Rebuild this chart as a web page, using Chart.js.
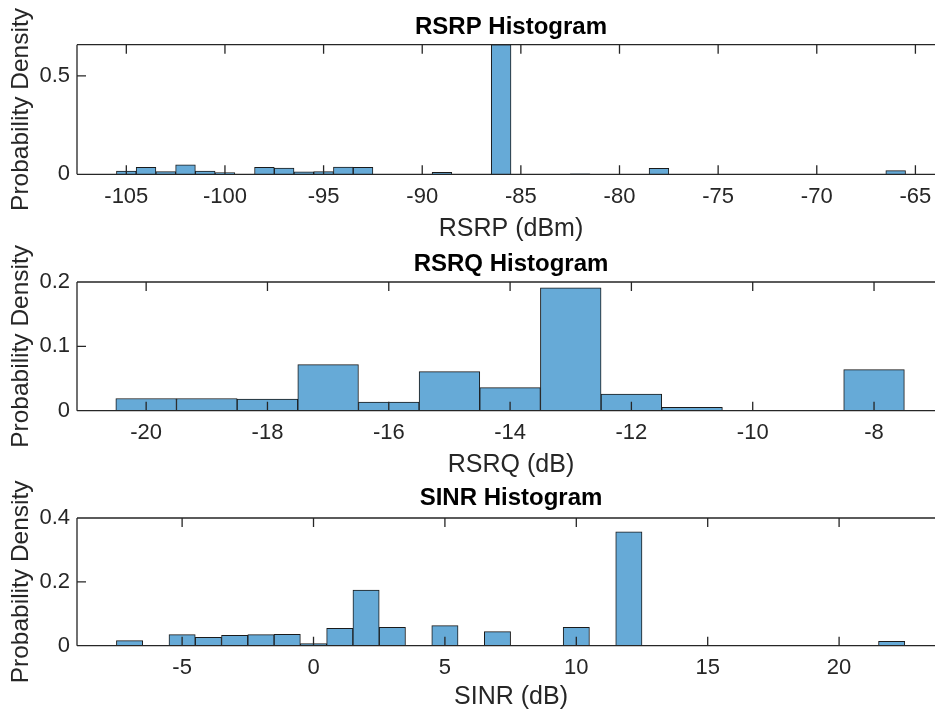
<!DOCTYPE html>
<html lang="en">
<head>
<meta charset="UTF-8">
<title>Histograms</title>
<style>
  body { margin: 0; background: #fff; }
  .wrap { position: relative; width: 935px; height: 713px; overflow: hidden; }
  .wrap canvas { position: absolute; left: 0; }
</style>
<script src="https://cdn.jsdelivr.net/npm/chart.js@4.4.0/dist/chart.umd.min.js"></script>
</head>
<body>
<div class="wrap">
  <canvas id="rsrp" width="945" height="242" style="top:0px"></canvas>
  <canvas id="rsrq" width="945" height="236" style="top:242px"></canvas>
  <canvas id="sinr" width="945" height="235" style="top:478px"></canvas>
</div>
<script>
// RSRP histogram (bin width 1 dBm, centres)
const rsrpBins = [-105, -104, -103, -102, -101, -100, -98, -97, -96, -95, -94, -93, -89, -86, -82, -78, -66];
const rsrpDensity = [0.017, 0.036, 0.014, 0.048, 0.017, 0.009, 0.036, 0.031, 0.012, 0.014, 0.037, 0.036, 0.010, 0.659, 0.003, 0.030, 0.019];
const rsrpXTicks = [-105, -100, -95, -90, -85, -80, -75, -70, -65];
const rsrpYTicks = [0, 0.5];

// RSRQ histogram (bin width 1 dB)
const rsrqBins = [-20, -19, -18, -17, -16, -15, -14, -13, -12, -11, -8];
const rsrqDensity = [0.019, 0.019, 0.018, 0.0715, 0.0135, 0.0607, 0.0358, 0.191, 0.0259, 0.0052, 0.0638];
const rsrqXTicks = [-20, -18, -16, -14, -12, -10, -8];
const rsrqYTicks = [0, 0.1, 0.2];

// SINR histogram (bin width 1 dB)
const sinrBins = [-7, -5, -4, -3, -2, -1, 0, 1, 2, 3, 5, 7, 10, 12, 22];
const sinrDensity = [0.0157, 0.0345, 0.026, 0.0324, 0.0345, 0.0355, 0.0063, 0.0543, 0.1745, 0.0575, 0.0627, 0.0439, 0.0575, 0.357, 0.0136];
const sinrXTicks = [-5, 0, 5, 10, 15, 20];
const sinrYTicks = [0, 0.2, 0.4];

Chart.defaults.font.family = "'Liberation Sans', Arial, Helvetica, sans-serif";
Chart.defaults.color = '#262626';

// matlab style box + inward ticks, drawn over the bars
const boxTicks = {
  id: 'boxTicks',
  afterDatasetsDraw(chart) {
    const ctx = chart.ctx, a = chart.chartArea;
    const x = chart.scales.x, y = chart.scales.y;
    ctx.save();
    ctx.strokeStyle = '#262626';
    ctx.lineWidth = 1.3;
    ctx.beginPath();
    ctx.moveTo(a.left, a.top); ctx.lineTo(a.right, a.top);
    ctx.moveTo(a.left, a.bottom); ctx.lineTo(a.right, a.bottom);
    ctx.moveTo(a.left, a.top); ctx.lineTo(a.left, a.bottom);
    x.ticks.forEach(t => {
      const px = x.getPixelForValue(t.value);
      ctx.moveTo(px, a.bottom); ctx.lineTo(px, a.bottom - 9);
      ctx.moveTo(px, a.top); ctx.lineTo(px, a.top + 9);
    });
    y.ticks.forEach(t => {
      const py = y.getPixelForValue(t.value);
      ctx.moveTo(a.left, py); ctx.lineTo(a.left + 9, py);
    });
    ctx.stroke();
    ctx.restore();
  }
};

function makeHist(id, bins, dens, xTicks, yTicks, xmin, xmax, ymax, title, xlabel, areaBottom, titlePad, xlabPad) {
  const canvas = document.getElementById(id);
  const h = canvas.height;
  return new Chart(canvas, {
    type: 'bar',
    data: {
      datasets: [{
        data: bins.map((b, i) => ({ x: b, y: dens[i] })),
        backgroundColor: '#66aad7',
        borderColor: '#1a1a1a',
        borderWidth: 1,
        barPercentage: 1,
        categoryPercentage: 1
      }]
    },
    options: {
      responsive: false,
      animation: false,
      devicePixelRatio: 1,
      layout: { padding: 0 },
      plugins: {
        legend: { display: false },
        tooltip: { enabled: false },
        title: {
          display: true,
          fullSize: false,
          text: title,
          color: '#000',
          font: { size: 24, weight: 'bold' },
          padding: titlePad
        }
      },
      scales: {
        x: {
          type: 'linear',
          offset: false,
          min: xmin,
          max: xmax,
          grid: { display: false, drawTicks: false, offset: false },
          border: { display: false },
          afterBuildTicks: s => { s.ticks = xTicks.map(v => ({ value: v })); },
          afterFit: s => { s.height = h - areaBottom; },
          ticks: { font: { size: 22 }, padding: 9.5, callback: v => String(v) },
          title: { display: true, text: xlabel, font: { size: 25, lineHeight: 1 }, padding: { top: 0, bottom: xlabPad } }
        },
        y: {
          min: 0,
          max: ymax,
          grid: { display: false, drawTicks: false },
          border: { display: false },
          afterBuildTicks: s => { s.ticks = yTicks.map(v => ({ value: v })); },
          afterFit: s => { s.width = 77; },
          ticks: { font: { size: 22 }, padding: 7, callback: v => String(v) },
          title: { display: true, text: 'Probability Density', font: { size: 24.5 }, padding: { top: 6.3, bottom: 0 } }
        }
      }
    },
    plugins: [boxTicks]
  });
}

makeHist('rsrp', rsrpBins, rsrpDensity, rsrpXTicks, rsrpYTicks, -107.5, -63.5, 0.659,
  'RSRP Histogram', 'RSRP (dBm)', 174.3, { top: 12.6, bottom: 3.3 }, 0);
makeHist('rsrq', rsrqBins, rsrqDensity, rsrqXTicks, rsrqYTicks, -21.14, -6.83, 0.2,
  'RSRQ Histogram', 'RSRQ (dB)', 168.7, { top: 7.6, bottom: 3.6 }, 0.75);
makeHist('sinr', sinrBins, sinrDensity, sinrXTicks, sinrYTicks, -9, 24.03, 0.4,
  'SINR Histogram', 'SINR (dB)', 167.7, { top: 5.6, bottom: 5.6 }, 3.75);
</script>
</body>
</html>
